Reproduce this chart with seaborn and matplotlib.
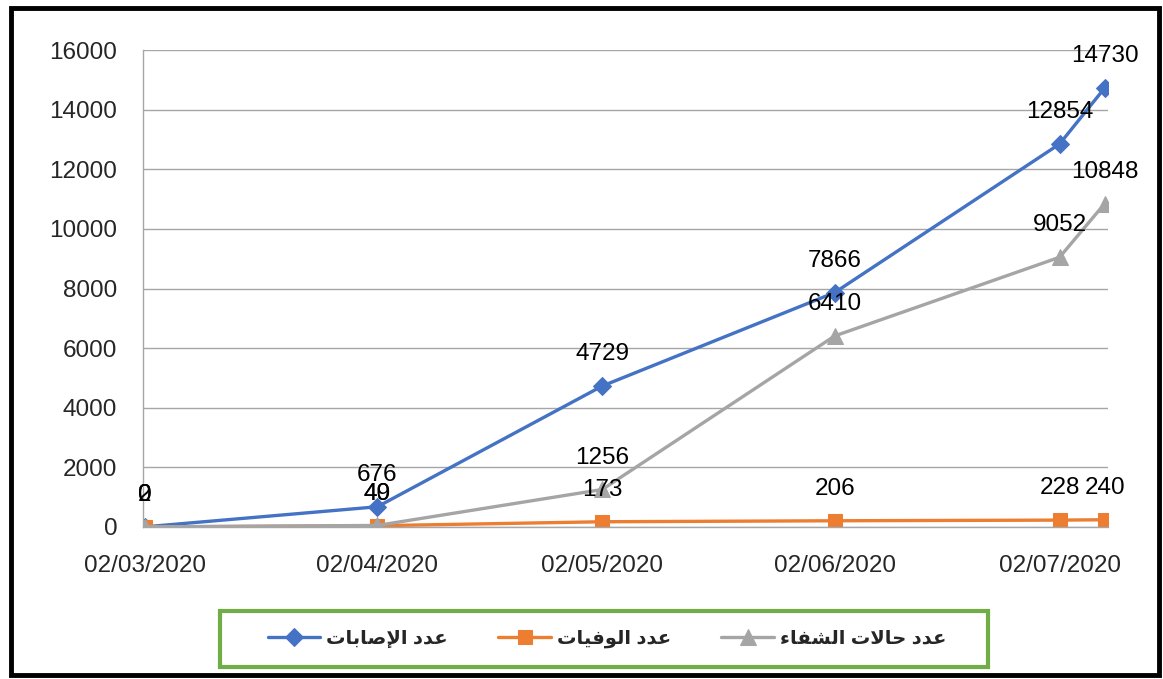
import pandas as pd
import matplotlib
matplotlib.use("Agg")
import matplotlib.pyplot as plt
import matplotlib.dates as mdates
from matplotlib.patches import Rectangle
import seaborn as sns

# data
dates = ["02/03/2020", "02/04/2020", "02/05/2020", "02/06/2020", "02/07/2020", "08/07/2020"]
cases = [2, 676, 4729, 7866, 12854, 14730]
deaths = [0, 40, 173, 206, 228, 240]
recovered = [0, 49, 1256, 6410, 9052, 10848]
tick_dates = ["02/03/2020", "02/04/2020", "02/05/2020", "02/06/2020", "02/07/2020"]
names = ["عدد الإصابات", "عدد الوفيات", "عدد حالات الشفاء"]

# minimal arabic shaping (matplotlib has no bidi / joining support)
FORMS = {  # isolated, final, initial, medial
    'ء': ('\uFE80', None, None, None),
    'ا': ('\uFE8D', '\uFE8E', None, None),
    'إ': ('\uFE87', '\uFE88', None, None),
    'د': ('\uFEA9', '\uFEAA', None, None),
    'و': ('\uFEED', '\uFEEE', None, None),
    'ب': ('\uFE8F', '\uFE90', '\uFE91', '\uFE92'),
    'ت': ('\uFE95', '\uFE96', '\uFE97', '\uFE98'),
    'ح': ('\uFEA1', '\uFEA2', '\uFEA3', '\uFEA4'),
    'ش': ('\uFEB5', '\uFEB6', '\uFEB7', '\uFEB8'),
    'ص': ('\uFEB9', '\uFEBA', '\uFEBB', '\uFEBC'),
    'ع': ('\uFEC9', '\uFECA', '\uFECB', '\uFECC'),
    'ف': ('\uFED1', '\uFED2', '\uFED3', '\uFED4'),
    'ل': ('\uFEDD', '\uFEDE', '\uFEDF', '\uFEE0'),
    'ي': ('\uFEF1', '\uFEF2', '\uFEF3', '\uFEF4'),
}
LAM_ALEF = {'ا': ('\uFEFB', '\uFEFC'), 'إ': ('\uFEF9', '\uFEFA')}


def shape(text):
    units = []
    i = 0
    while i < len(text):
        if text[i] == 'ل' and i + 1 < len(text) and text[i + 1] in LAM_ALEF:
            units.append(('LA', text[i + 1]))
            i += 2
        else:
            units.append((text[i], None))
            i += 1

    def dual(c):
        return c in FORMS and FORMS[c][2] is not None

    def takes_prev(c):
        return c == 'LA' or (c in FORMS and FORMS[c][1] is not None)

    out = []
    for k, (c, a) in enumerate(units):
        prev = units[k - 1][0] if k > 0 else None
        nxt = units[k + 1][0] if k + 1 < len(units) else None
        jp = prev is not None and dual(prev) and takes_prev(c)
        jn = nxt is not None and dual(c) and takes_prev(nxt)
        if c == 'LA':
            out.append(LAM_ALEF[a][1] if jp else LAM_ALEF[a][0])
        elif c in FORMS:
            f = FORMS[c]
            if jp and jn:
                out.append(f[3])
            elif jp:
                out.append(f[1])
            elif jn:
                out.append(f[2])
            else:
                out.append(f[0])
        else:
            out.append(c)
    return ''.join(reversed(out))


x = pd.to_datetime(dates, dayfirst=True)
df = pd.DataFrame({"date": x, "cases": cases, "deaths": deaths, "recovered": recovered})

sns.set_style("white")
plt.rcParams['font.family'] = ['Liberation Sans', 'DejaVu Sans']

fig = plt.figure(figsize=(11.63, 6.79), dpi=100)
ax = fig.add_axes([0.123, 0.224, 0.830, 0.702])

series = [("cases", "#4472C4", "D", 9), ("deaths", "#ED7D31", "s", 10), ("recovered", "#A5A5A5", "^", 11)]
for (col, color, marker, ms), name in zip(series, names):
    sns.lineplot(data=df, x="date", y=col, ax=ax, color=color, marker=marker, markersize=ms,
                 markeredgecolor=color, linewidth=2.4, label=shape(name))
    for d, v in zip(df["date"], df[col]):
        ax.annotate(str(v), (d, v), xytext=(0, 15), textcoords="offset points",
                    ha="center", va="bottom", fontsize=17.5, color="black")

ax.set_ylim(0, 16000)
ax.set_yticks(range(0, 16001, 2000))
ax.set_xlim(x[0] - pd.Timedelta(hours=6), x[-1] + pd.Timedelta(hours=12))
ax.set_xticks(pd.to_datetime(tick_dates, dayfirst=True))
ax.xaxis.set_major_formatter(mdates.DateFormatter("%d/%m/%Y"))
ax.set_xlabel("")
ax.set_ylabel("")
ax.grid(axis="y", color="#A6A6A6", linewidth=1)
ax.set_axisbelow(True)
for s in ["top", "right"]:
    ax.spines[s].set_visible(False)
for s in ["left", "bottom"]:
    ax.spines[s].set_color("#A6A6A6")
    ax.spines[s].set_linewidth(1)
ax.tick_params(axis="y", length=6.5, color="#A6A6A6", pad=12, labelsize=17.5)
ax.tick_params(axis="x", length=6, color="#A6A6A6", pad=14, labelsize=17.5)

ax.legend(loc="center", ncol=3, bbox_to_anchor=(607 / 1163, 40 / 679), bbox_transform=fig.transFigure,
          prop={"weight": "bold", "size": 14}, handlelength=2.7, handletextpad=0.3,
          columnspacing=2.6, frameon=False, borderaxespad=0)

# green legend box and outer black frame
fig.patches.append(Rectangle((220 / 1163, 12 / 679), 768 / 1163, 56 / 679, transform=fig.transFigure,
                             fill=False, edgecolor="#70AD47", linewidth=3))
fig.patches.append(Rectangle((11 / 1163, 4 / 679), 1148 / 1163, 667 / 679, transform=fig.transFigure,
                             fill=False, edgecolor="black", linewidth=3.5))

fig.savefig("out.png", dpi=100)
